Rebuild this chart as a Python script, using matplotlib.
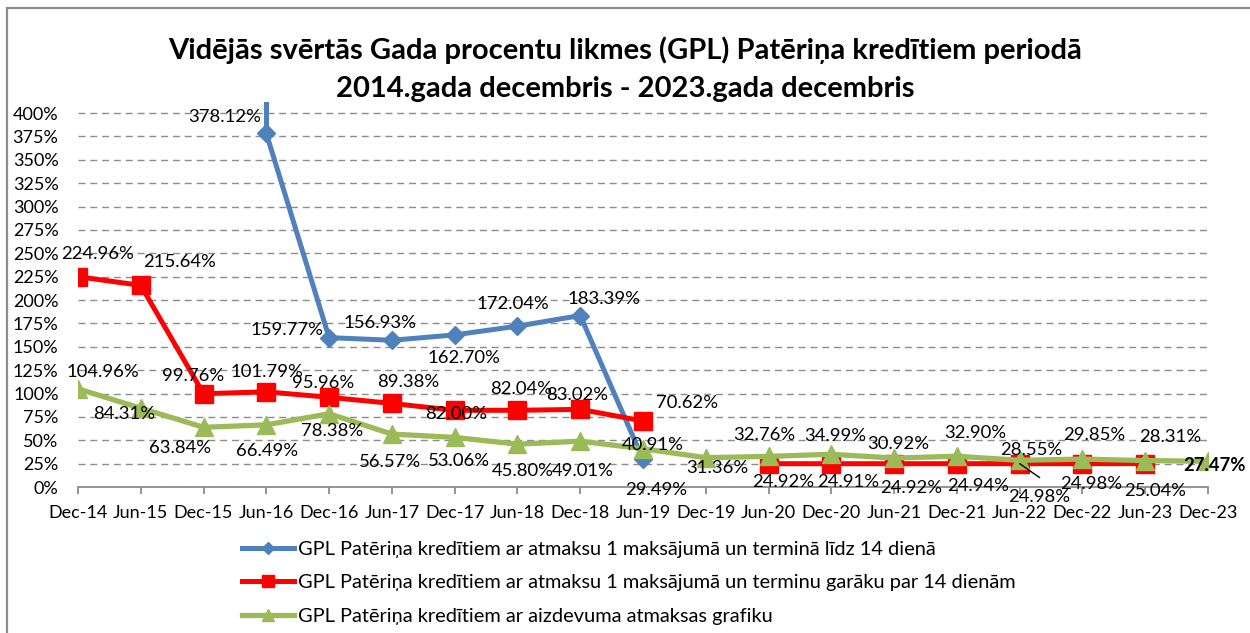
import numpy as np
import matplotlib
matplotlib.use("Agg")
import matplotlib.pyplot as plt
from matplotlib.patches import Rectangle

plt.rcParams['font.family'] = ['Lato', 'DejaVu Sans']

# dati
periods = ["Dec-14", "Jun-15", "Dec-15", "Jun-16", "Dec-16", "Jun-17", "Dec-17", "Jun-18",
           "Dec-18", "Jun-19", "Dec-19", "Jun-20", "Dec-20", "Jun-21", "Dec-21", "Jun-22",
           "Dec-22", "Jun-23", "Dec-23"]
gpl_short = [None, None, None, 378.12, 159.77, 156.93, 162.70, 172.04, 183.39, 29.49,
             None, None, None, None, None, None, None, None, None]
gpl_long = [224.96, 215.64, 99.76, 101.79, 95.96, 89.38, 82.00, 82.04, 83.02, 70.62,
            None, 24.92, 24.91, 24.92, 24.94, 24.98, 24.98, 25.04, None]
gpl_sched = [104.96, 84.31, 63.84, 66.49, 78.38, 56.57, 53.06, 45.80, 49.01, 40.91,
             31.36, 32.76, 34.99, 30.92, 32.90, 28.55, 29.85, 28.31, 27.47]
series_names = [
    "GPL Patēriņa kredītiem ar atmaksu 1 maksājumā un terminā līdz 14 dienā",
    "GPL Patēriņa kredītiem ar atmaksu 1 maksājumā un terminu garāku par 14 dienām",
    "GPL Patēriņa kredītiem ar aizdevuma atmaksas grafiku",
]
title = ("Vidējās svērtās Gada procentu likmes (GPL) Patēriņa kredītiem periodā\n"
         "2014.gada decembris - 2023.gada decembris")

# label offsets (pixels, y up)
off_short = [None, None, None, (-42, 16), (-42, 8), (-12, 17), (9, -23), (-5, 22), (24, 17), (13, -31),
             None, None, None, None, None, None, None, None, None]
off_long = [(20, 23), (39, 23), (-10, 18), (1, 20), (-6, 14), (16, 21), (1, -4), (4, 21), (-3, 14), (44, 18),
            None, (15, -18), (17, -18), (17, -24), (21, -22), (20, -33), (9, -20), (10, -27), None]
off_sched = [(25, 17), (-17, -6), (-23, -21), (1, -26), (3, -17), (-2, -28), (4, -24), (5, -27), (3, -30),
             (10, 4), (12, -10), (-4, 21), (4, 18), (4, 14), (18, 23), (12, 10), (12, 24), (25, 24), (7, -4)]

W, H = 1250, 633
fig = plt.figure(figsize=(W / 100, H / 100), dpi=100)
x0, x1, yb, yt = 78, 1208, 487, 101.8
ax = fig.add_axes([x0 / W, 1 - yb / H, (x1 - x0) / W, (yb - yt) / H])

x = np.arange(len(periods))


def to_arr(vals):
    return np.array([np.nan if v is None else v for v in vals], dtype=float)


blue, red, green = "#4F81BD", "#FF0000", "#9BBB59"
s1, s2, s3 = to_arr(gpl_short), to_arr(gpl_long), to_arr(gpl_sched)

ax.plot(x, s1, color=blue, lw=3.6, marker="D", ms=9.5, zorder=3, label=series_names[0])
# segment leaving the plot above 400%
i0 = int(np.nanargmax(s1))
ax.plot([x[i0], x[i0]], [s1[i0], 420], color=blue, lw=3.6, zorder=3, solid_capstyle="butt")
ax.plot(x, s2, color=red, lw=3.6, marker="s", ms=13.5, zorder=4, label=series_names[1])
ax.plot(x, s3, color=green, lw=3.8, marker="^", ms=12.5, zorder=5, label=series_names[2])

ax.set_xlim(0, len(periods) - 1)
ax.set_ylim(0, 412)
ax.set_yticks(np.arange(0, 401, 25))
ax.set_yticklabels([f"{v}%" for v in range(0, 401, 25)])
ax.set_xticks(x)
ax.set_xticklabels(periods)
ax.yaxis.grid(True, color="#8c8c8c", lw=1.0, linestyle=(0, (5, 3.5)))
ax.set_axisbelow(True)
for sp in ["top", "right", "left"]:
    ax.spines[sp].set_visible(False)
ax.spines["bottom"].set_color("#8c8c8c")
ax.spines["bottom"].set_linewidth(1.3)
ax.tick_params(axis="y", length=0, pad=14, labelsize=13)
ax.tick_params(axis="x", length=5, width=1.3, color="#8c8c8c", pad=8, labelsize=13)

for vals, offs in [(s1, off_short), (s2, off_long), (s3, off_sched)]:
    for i, v in enumerate(vals):
        if np.isnan(v) or offs[i] is None:
            continue
        bold = (i == len(vals) - 1 and vals is s3)
        ax.annotate(f"{v:.2f}%", (x[i], v), xytext=offs[i], textcoords="offset pixels",
                    ha="center", va="center", fontsize=13.3, zorder=6,
                    fontweight="bold" if bold else "normal", annotation_clip=False)

# leader line for Jun-22 label
j = periods.index("Jun-22")
ax.annotate("", (x[j], s2[j]), xytext=(20, -14), textcoords="offset pixels",
            arrowprops=dict(arrowstyle="-", color="black", lw=1.0, shrinkA=0, shrinkB=0), zorder=6)

fig.text(0.5, 1 - 69 / H, title, ha="center", va="center", fontsize=21, fontweight="bold",
         linespacing=1.55)

leg = fig.legend(loc="upper left", bbox_to_anchor=(242 / W, 1 - 541 / H), frameon=False,
                 fontsize=14.4, handlelength=2.6, handletextpad=0.2, labelspacing=0.82,
                 borderpad=0, borderaxespad=0, markerscale=0.65)

fig.patches.append(Rectangle((7 / W, -0.1), 1.2, 1 - 8 / H + 0.1, transform=fig.transFigure,
                             fill=False, edgecolor="#8c8c8c", lw=1.6))

fig.savefig("out.png", dpi=100)
